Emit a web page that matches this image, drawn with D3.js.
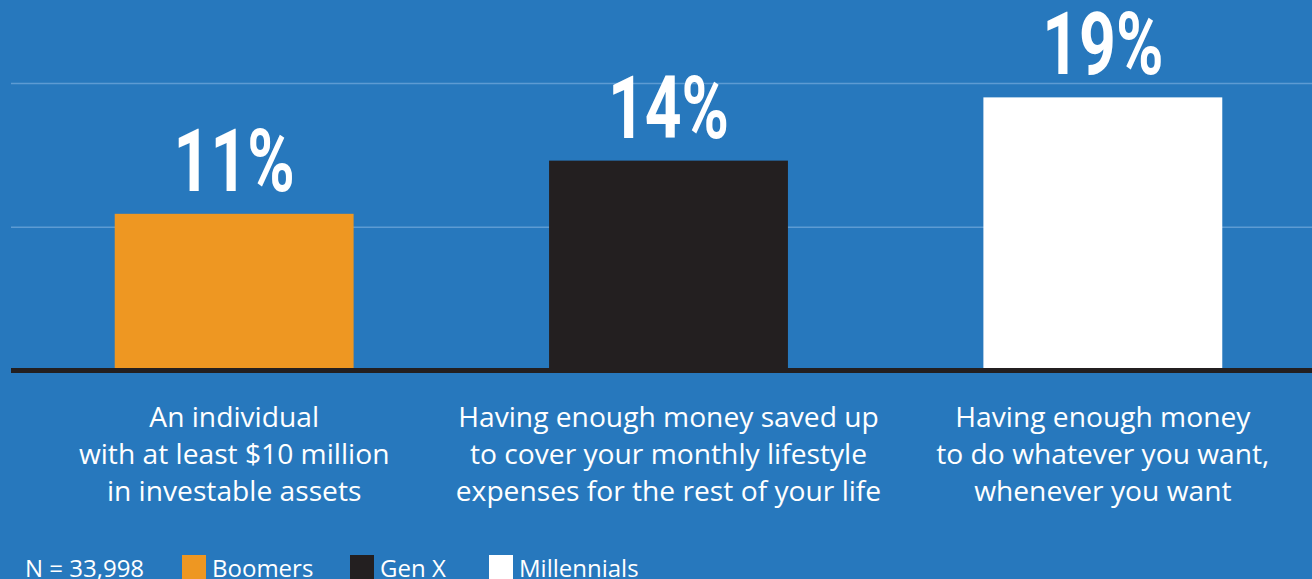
<!DOCTYPE html>
<html>
<head>
<meta charset="utf-8">
<script src="https://cdn.jsdelivr.net/npm/d3@7"></script>
<style>
  html, body { margin: 0; padding: 0; background: #2778bd; }
  svg { display: block; }
  .cat-label { font-family: "Open Sans", sans-serif; fill: #fff; }
  .legend text { font-family: "Open Sans", sans-serif; fill: #fff; }
  .value-label { font-family: Roboto, sans-serif; font-weight: 700; fill: #fff; }
</style>
</head>
<body>
<div id="chart"></div>
<script>
// data
var categories = ["individual", "savedUp", "whatever"];
var categoryLines = [
    ["An individual", "with at least $10 million", "in investable assets"],
    ["Having enough money saved up", "to cover your monthly lifestyle", "expenses for the rest of your life"],
    ["Having enough money", "to do whatever you want,", "whenever you want"]
];
var generations = ["Boomers", "Gen X", "Millennials"];
var values = [10.9, 14.6, 19.0];          // bar heights as drawn
var valueLabels = ["11%", "14%", "19%"];
var gridTicks = [10, 20];
var sampleNote = "N = 33,998";

var colors = {"Boomers": "#ee9722", "Gen X": "#231f20", "Millennials": "#ffffff"};

var chart = {
    svgWidth: 1312,
    svgHeight: 579,
    margin: {"top": 83, "bottom": 208.5, "left": 11, "right": 0}
};

var svg = d3.select("#chart").append("svg")
    .attr("width", chart.svgWidth)
    .attr("height", chart.svgHeight);

svg.append("rect")
    .attr("width", chart.svgWidth)
    .attr("height", chart.svgHeight)
    .attr("fill", "#2778bd");

var yScale = d3.scaleLinear()
    .domain([0, 20])
    .range([chart.svgHeight - chart.margin.bottom, chart.margin.top]);

var xScale = d3.scaleBand()
    .domain(categories)
    .range([17, 1320])
    .paddingInner(0.45)
    .paddingOuter(0.225);

// gridlines
svg.append("g")
    .attr("class", "grid")
    .attr("transform", "translate(" + chart.margin.left + ", 0)")
    .call(d3.axisLeft(yScale)
        .tickValues(gridTicks)
        .tickSize(-(chart.svgWidth - chart.margin.left))
        .tickFormat(""))
    .call(g => g.select(".domain").remove())
    .call(g => g.selectAll(".tick line")
        .attr("stroke", "#5d9bd3")
        .attr("stroke-width", 1.5));

// bars
svg.selectAll("rect.bar")
    .data(categories)
    .enter().append("rect")
    .attr("class", "bar")
    .attr("x", d => xScale(d))
    .attr("width", xScale.bandwidth())
    .attr("y", (d, i) => yScale(values[i]))
    .attr("height", (d, i) => yScale(0) - yScale(values[i]))
    .attr("fill", (d, i) => colors[generations[i]]);

// baseline
svg.append("line")
    .attr("x1", chart.margin.left)
    .attr("x2", chart.svgWidth)
    .attr("y1", yScale(0))
    .attr("y2", yScale(0))
    .attr("stroke", "#231f20")
    .attr("stroke-width", 5);

// value labels, squeezed to look condensed
svg.selectAll("text.value-label")
    .data(categories)
    .enter().append("text")
    .attr("class", "value-label")
    .attr("font-size", 88)
    .attr("text-anchor", "middle")
    .attr("transform", (d, i) => "translate(" + (xScale(d) + xScale.bandwidth() / 2)
        + "," + (yScale(values[i]) - 23) + ") scale(0.73,1)")
    .text((d, i) => valueLabels[i]);

// category labels
var cats = svg.selectAll("text.cat-label")
    .data(categories)
    .enter().append("text")
    .attr("class", "cat-label")
    .attr("font-size", 28.2)
    .attr("text-anchor", "middle")
    .attr("x", d => xScale(d) + xScale.bandwidth() / 2)
    .attr("y", 427);

cats.selectAll("tspan")
    .data((d, i) => categoryLines[i])
    .enter().append("tspan")
    .attr("x", function() { return d3.select(this.parentNode).attr("x"); })
    .attr("dy", (d, i) => i == 0 ? 0 : 37)
    .text(d => d);

// legend
var legend = svg.append("g").attr("class", "legend");

legend.append("text")
    .attr("x", 25)
    .attr("y", 577)
    .attr("font-size", 24)
    .text(sampleNote);

var legendX = [182, 350, 489];
var items = legend.selectAll("g.item")
    .data(generations)
    .enter().append("g")
    .attr("class", "item")
    .attr("transform", (d, i) => "translate(" + legendX[i] + ", 555)");

items.append("rect")
    .attr("width", 24)
    .attr("height", 24)
    .attr("fill", d => colors[d]);

items.append("text")
    .attr("x", 30)
    .attr("y", 22)
    .attr("font-size", 24)
    .text(d => d);
</script>
</body>
</html>
